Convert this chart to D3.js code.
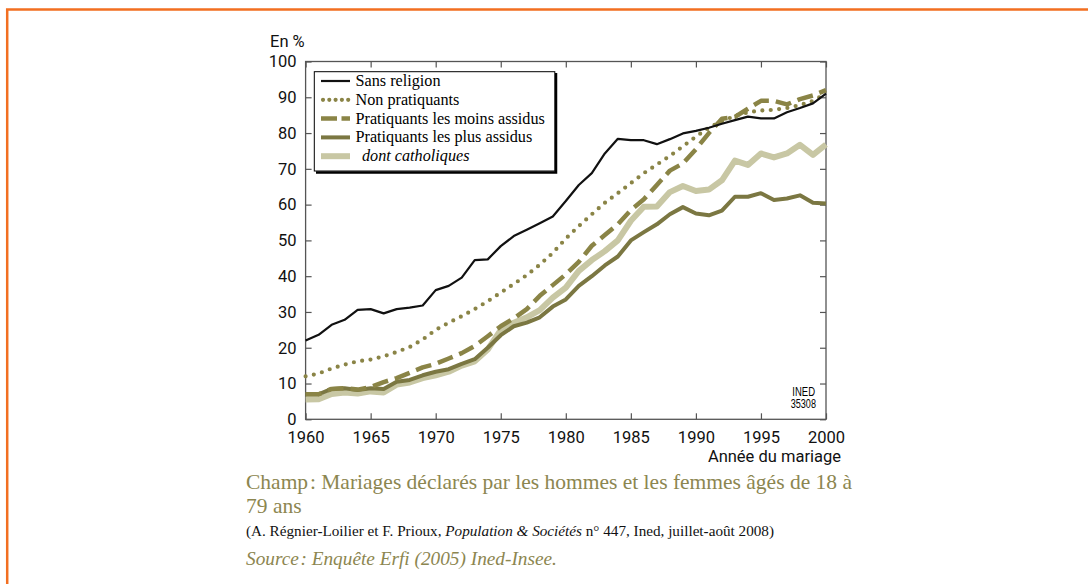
<!DOCTYPE html>
<html>
<head>
<meta charset="utf-8">
<title>Mariages religieux</title>
<script src="https://cdnjs.cloudflare.com/ajax/libs/d3/7.8.5/d3.min.js"></script>
<style>
body { margin: 0; background: #fff; }
svg { display: block; }
.axis text { font-family: Roboto, "Liberation Sans", sans-serif; font-size: 16.5px; fill: #111; }
.axis line { stroke: #555; stroke-width: 1.2; }
.axis .domain { display: none; }
.caption { font-family: "Liberation Serif", serif; fill: #8c8650; }
</style>
</head>
<body>
<svg width="1088" height="584"></svg>
<script>

// data (percent, by year of marriage)
var years = [1960, 1961, 1962, 1963, 1964, 1965, 1966, 1967, 1968, 1969,
             1970, 1971, 1972, 1973, 1974, 1975, 1976, 1977, 1978, 1979,
             1980, 1981, 1982, 1983, 1984, 1985, 1986, 1987, 1988, 1989,
             1990, 1991, 1992, 1993, 1994, 1995, 1996, 1997, 1998, 1999, 2000];

var sansReligion = [22, 23.6, 26.4, 27.8, 30.6, 30.8, 29.6, 30.8, 31.2, 31.8,
                    36.1, 37.3, 39.6, 44.5, 44.7, 48.4, 51.2, 53, 54.8, 56.7,
                    61, 65.5, 68.8, 74.3, 78.4, 78, 78, 76.9, 78.3, 79.9,
                    80.6, 81.5, 82.6, 83.6, 84.6, 84.1, 84.1, 85.8, 87, 88.3, 91];

var nonPratiquants = [12, 12.8, 14.2, 15.3, 16.2, 16.7, 17.6, 18.8, 20.2, 22.3,
                      25, 27, 28.8, 30.8, 33, 35.4, 37.8, 40.3, 43.2, 46.5,
                      50.5, 54, 57.3, 60.5, 63.2, 66, 68.8, 71.2, 73.6, 76.3,
                      79, 81.5, 83.3, 84.8, 85.8, 86.3, 86.5, 87, 87.8, 89, 91];

var moinsAssidus = [7, 7, 8.5, 8.7, 8.3, 9, 10.4, 11.5, 13, 14.5,
                    15.5, 17, 18.5, 20.5, 23.2, 26, 28.2, 30.8, 34.5, 37.5,
                    40.5, 44, 48.5, 51.5, 54.5, 58.5, 61.5, 65.5, 69.5, 71.5,
                    75.5, 80, 84, 84.5, 86.8, 89, 89, 88, 89.5, 90.5, 92];

var plusAssidus = [7, 7, 8.5, 8.7, 8.2, 8.7, 8.5, 10.5, 11, 12.3,
                   13.3, 14, 15.5, 16.8, 20, 23.5, 26, 27, 28.5, 31.5,
                   33.5, 37.3, 40, 43, 45.5, 50, 52.3, 54.5, 57.3, 59.3,
                   57.5, 57, 58.3, 62.2, 62.2, 63.2, 61.3, 61.7, 62.6, 60.5, 60.3];

var catholiques = [5.5, 5.6, 7.1, 7.5, 7.2, 7.8, 7.5, 9.7, 10.3, 11.5,
                   12.3, 13.3, 15, 16.2, 19.5, 25, 27, 28.5, 30.5, 34,
                   36.8, 41.5, 44.5, 47, 50, 55.5, 59.4, 59.5, 63.5, 65.2,
                   63.8, 64.2, 66.8, 72.3, 71.1, 74.3, 73.2, 74.3, 76.7, 73.9, 76.8];

var seriesNames = ["Sans religion", "Non pratiquants", "Pratiquants les moins assidus",
                   "Pratiquants les plus assidus", "dont catholiques"];

var xTicks = [1960, 1965, 1970, 1975, 1980, 1985, 1990, 1995, 2000];
var yTicks = [0, 10, 20, 30, 40, 50, 60, 70, 80, 90, 100];

// line styles, same order as seriesNames
var styles = [
  { color: "#111111", width: 2.2, dash: null, cap: "butt" },
  { color: "#8a8446", width: 4.2, dash: "0,8.4", cap: "round" },
  { color: "#8a8446", width: 4.5, dash: "16,7", cap: "butt" },
  { color: "#7b7742", width: 4, dash: null, cap: "butt" },
  { color: "#c8c7a4", width: 6, dash: null, cap: "butt" }
];

var svg = d3.select("svg");

// orange page frame
svg.append("rect")
  .attr("x", 7.2).attr("y", 9.5)
  .attr("width", 1200).attr("height", 700)
  .attr("fill", "none")
  .attr("stroke", "#f26f21")
  .attr("stroke-width", 2.5);

var x = d3.scaleLinear().domain([1960, 2000]).range([305.6, 826]);
var y = d3.scaleLinear().domain([0, 100]).range([419.3, 61.5]);

// axes, ticks pointing inwards on all four sides
svg.append("g").attr("class", "axis")
  .attr("transform", "translate(0," + y(0) + ")")
  .call(d3.axisBottom(x).tickValues(xTicks).tickSize(-6).tickPadding(12).tickFormat(d3.format("d")));

svg.append("g").attr("class", "axis")
  .attr("transform", "translate(" + x(1960) + ",0)")
  .call(d3.axisLeft(y).tickValues(yTicks).tickSize(-6).tickPadding(9));

svg.append("g").attr("class", "axis")
  .attr("transform", "translate(0," + y(100) + ")")
  .call(d3.axisTop(x).tickValues(xTicks).tickSize(-6).tickFormat(""));

svg.append("g").attr("class", "axis")
  .attr("transform", "translate(" + x(2000) + ",0)")
  .call(d3.axisRight(y).tickValues(yTicks).tickSize(-6).tickFormat(""));

svg.append("rect")
  .attr("x", x(1960)).attr("y", y(100))
  .attr("width", x(2000) - x(1960)).attr("height", y(0) - y(100))
  .attr("fill", "none")
  .attr("stroke", "#555")
  .attr("stroke-width", 1.3);

svg.append("text")
  .attr("x", 270).attr("y", 47)
  .style("font-family", "Roboto, 'Liberation Sans', sans-serif")
  .style("font-size", "16.5px")
  .attr("fill", "#111")
  .text("En %");

svg.append("text")
  .attr("x", 841).attr("y", 462)
  .attr("text-anchor", "end")
  .style("font-family", "Roboto, 'Liberation Sans', sans-serif")
  .style("font-size", "16.5px")
  .attr("fill", "#111")
  .text("Année du mariage");

// INED stamp
svg.append("text")
  .attr("x", 792.3).attr("y", 396)
  .attr("textLength", 22.7).attr("lengthAdjust", "spacingAndGlyphs")
  .style("font-family", "'Liberation Sans Narrow', 'Liberation Sans', sans-serif")
  .style("font-size", "12.5px")
  .text("INED");
svg.append("text")
  .attr("x", 790.7).attr("y", 408.3)
  .attr("textLength", 25.3).attr("lengthAdjust", "spacingAndGlyphs")
  .style("font-family", "'Liberation Sans Narrow', 'Liberation Sans', sans-serif")
  .style("font-size", "12.5px")
  .text("35308");

// the lines
var allValues = [sansReligion, nonPratiquants, moinsAssidus, plusAssidus, catholiques];
var series = seriesNames.map(function(name, i) {
  return { name: name, style: styles[i], values: years.map(function(yr, j) { return [yr, allValues[i][j]]; }) };
});

var line = d3.line()
  .x(function(d) { return x(d[0]); })
  .y(function(d) { return y(d[1]); });

// drawing order: light first, black on top
var drawOrder = [4, 3, 2, 1, 0];
svg.append("g")
  .selectAll("path")
  .data(drawOrder.map(function(i) { return series[i]; }))
  .enter().append("path")
    .attr("d", function(d) { return line(d.values); })
    .attr("fill", "none")
    .attr("stroke", function(d) { return d.style.color; })
    .attr("stroke-width", function(d) { return d.style.width; })
    .attr("stroke-dasharray", function(d) { return d.style.dash; })
    .attr("stroke-linecap", function(d) { return d.style.cap; })
    .attr("stroke-linejoin", "round");

// legend box with shadow
var lg = svg.append("g");
lg.append("path")
  .attr("d", "M556,73 V172.5 H316")
  .attr("fill", "none").attr("stroke", "#000").attr("stroke-width", 2.5);
lg.append("rect")
  .attr("x", 314.3).attr("y", 71.7).attr("width", 240.5).attr("height", 99.3)
  .attr("fill", "#fff").attr("stroke", "#000").attr("stroke-width", 1);

var rows = lg.selectAll("g.row")
  .data(series)
  .enter().append("g")
    .attr("class", "row")
    .attr("transform", function(d, i) { return "translate(0," + (81 + i * 18.8) + ")"; });

rows.append("line")
  .attr("x1", function(d, i) { return i == 1 ? 323 : 321; })
  .attr("x2", 350)
  .attr("stroke", function(d) { return d.style.color; })
  .attr("stroke-width", function(d) { return d.style.width; })
  .attr("stroke-dasharray", function(d, i) { return i == 2 ? "16,4.5" : (i == 1 ? "0,6.3" : null); })
  .attr("stroke-linecap", function(d) { return d.style.cap; });

rows.append("text")
  .attr("x", function(d, i) { return i == 4 ? 362 : 355.5; })
  .attr("y", 5)
  .style("font-family", "'Liberation Serif', serif")
  .style("font-size", "16.2px")
  .style("font-style", function(d, i) { return i == 4 ? "italic" : "normal"; })
  .attr("fill", "#000")
  .text(function(d) { return d.name; });

// captions under the chart
svg.append("text").attr("class", "caption")
  .attr("x", 246).attr("y", 489)
  .style("font-size", "21.5px")
  .text("Champ\u200A: Mariages déclarés par les hommes et les femmes âgés de 18 à");
svg.append("text").attr("class", "caption")
  .attr("x", 246).attr("y", 513)
  .style("font-size", "21.5px")
  .text("79 ans");

var cite = svg.append("text")
  .attr("x", 246).attr("y", 536)
  .style("font-family", "'Liberation Serif', serif")
  .style("font-size", "15.2px")
  .attr("fill", "#111");
cite.append("tspan").text("(A. Régnier-Loilier et F. Prioux, ");
cite.append("tspan").style("font-style", "italic").text("Population & Sociétés");
cite.append("tspan").text(" n° 447, Ined, juillet-août 2008)");

svg.append("text").attr("class", "caption")
  .attr("x", 246).attr("y", 565)
  .style("font-size", "19.3px")
  .style("font-style", "italic")
  .text("Source\u200A: Enquête Erfi (2005) Ined-Insee.");

</script>
</body>
</html>
